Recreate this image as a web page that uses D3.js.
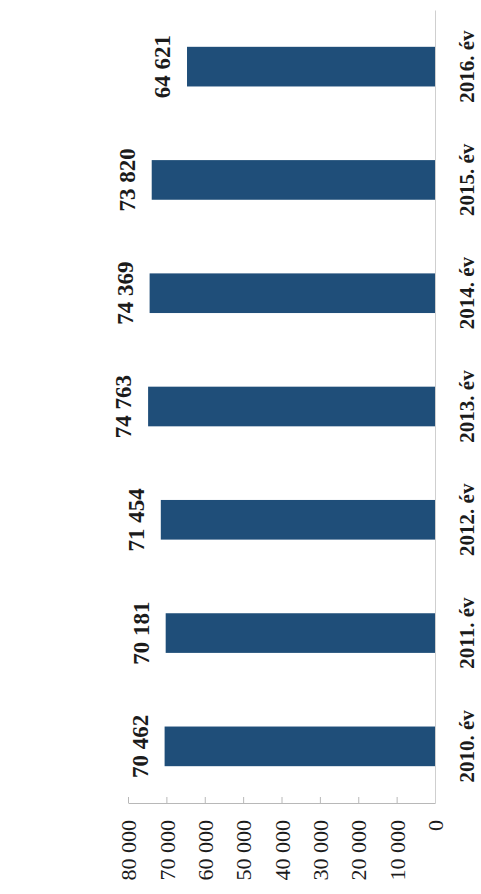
<!DOCTYPE html>
<html>
<head>
<meta charset="utf-8">
<script src="https://cdn.jsdelivr.net/npm/d3@7"></script>
<style>
    html, body { margin: 0; padding: 0; background: #fff; }
    svg { display: block; }
    text { font-family: "Liberation Serif", "Times New Roman", serif; fill: #1b1b1b; }
</style>
</head>
<body>
<div id="chart"></div>
<script>
// Adatok (évek és értékek)
const categories = ["2010. év", "2011. év", "2012. év", "2013. év", "2014. év", "2015. év", "2016. év"];
const values = [70462, 70181, 71454, 74763, 74369, 73820, 64621];
const tickValues = [0, 10000, 20000, 30000, 40000, 50000, 60000, 70000, 80000];

const width = 481, height = 894;

// A diagram 90 fokkal elforgatott: az értéktengely vízszintes, 0 jobbra
const plot = { left: 128, right: 435, top: 10, bottom: 803 };

const svg = d3.select("#chart")
    .append("svg")
    .attr("width", width)
    .attr("height", height);

svg.append("rect")
    .attr("width", width)
    .attr("height", height)
    .attr("fill", "#fff");

// Skálák
const x = d3.scaleLinear()
    .domain([0, 80000])
    .range([plot.right, plot.left]);

const y = d3.scaleBand()
    .domain(categories)
    .range([plot.bottom, plot.top])
    .paddingInner(0.65)
    .paddingOuter(0.325);

const fmt = d => d3.format(",")(d).replace(/,/g, " ");

// Oszlopok
svg.selectAll(".bar")
    .data(values)
    .enter()
    .append("rect")
    .attr("class", "bar")
    .attr("x", d => x(d))
    .attr("y", (d, i) => y(categories[i]))
    .attr("width", d => x(0) - x(d))
    .attr("height", y.bandwidth())
    .attr("fill", "#1f4e79");

// Értéktengely (alul)
const xAxis = svg.append("g")
    .attr("transform", `translate(0,${plot.bottom})`)
    .call(d3.axisBottom(x)
        .tickValues(tickValues)
        .tickFormat(fmt)
        .tickSizeInner(-6)
        .tickSizeOuter(0));

xAxis.select(".domain").attr("stroke", "#b8b8b8");
xAxis.selectAll(".tick line").attr("stroke", "#b8b8b8");
xAxis.selectAll(".tick text")
    .attr("transform", "rotate(-90)")
    .attr("x", -17)
    .attr("y", 0)
    .attr("dy", "0.35em")
    .attr("text-anchor", "end")
    .attr("font-family", null)
    .style("font-size", "22px");

// Kategóriatengely (függőleges vonal a 0-nál)
const yAxis = svg.append("g")
    .attr("transform", `translate(${x(0)},0)`)
    .call(d3.axisRight(y).tickSize(0).tickSizeOuter(0));

yAxis.select(".domain").attr("stroke", "#cfcfcf");
yAxis.selectAll(".tick text")
    .attr("transform", "rotate(-90)")
    .attr("x", 0)
    .attr("y", 39)
    .attr("dy", 0)
    .attr("text-anchor", "middle")
    .attr("font-family", null)
    .style("font-size", "21px")
    .style("font-weight", "bold");

// Adatcímkék az oszlopok végén
svg.selectAll(".label")
    .data(values)
    .enter()
    .append("text")
    .attr("class", "label")
    .attr("transform", (d, i) =>
        `translate(${x(d) - 17},${y(categories[i]) + y.bandwidth() / 2}) rotate(-90)`)
    .attr("text-anchor", "middle")
    .style("font-size", "23px")
    .style("font-weight", "bold")
    .text(d => fmt(d));
</script>
</body>
</html>
